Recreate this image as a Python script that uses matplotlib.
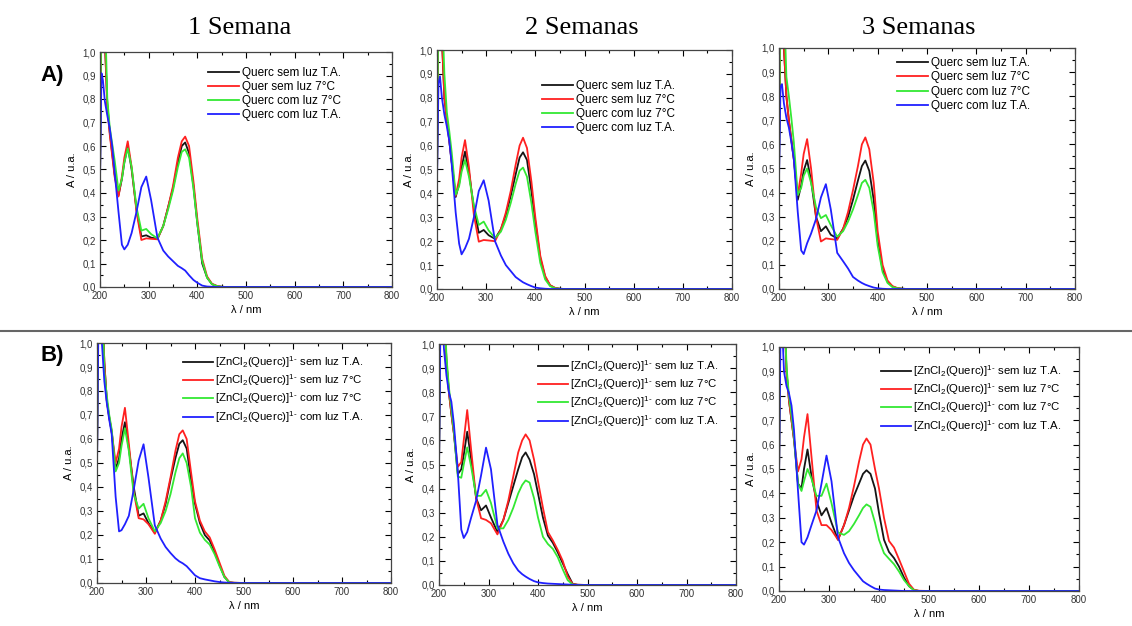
import numpy as np
import matplotlib.pyplot as plt
from matplotlib.lines import Line2D
from matplotlib.ticker import MultipleLocator, FuncFormatter

plt.rcParams['font.family'] = ['Liberation Sans', 'DejaVu Sans']
plt.rcParams['mathtext.default'] = 'regular'

# wavelength grid (nm) shared by all spectra
wl = [200, 203, 206, 210, 215, 220, 225, 230, 238, 245, 250, 257, 265, 275, 285, 295,
      305, 318, 330, 340, 350, 360, 368, 375, 383, 392, 400, 410, 420, 430, 440, 450,
      460, 470, 480, 500, 800]

# A) Querc  -- 1 semana
a1_black = [0.45, 1.3, 1.4, 1.05, 0.78, 0.66, 0.57, 0.48, 0.39, 0.46, 0.53, 0.60, 0.50, 0.33, 0.215, 0.22,
            0.21, 0.205, 0.26, 0.34, 0.42, 0.53, 0.60, 0.615, 0.57, 0.43, 0.27, 0.10, 0.04, 0.012, 0.004, 0.001,
            0, 0, 0, 0, 0]
a1_red = [0.45, 1.3, 1.4, 1.05, 0.76, 0.65, 0.56, 0.47, 0.385, 0.47, 0.55, 0.62, 0.51, 0.32, 0.20, 0.207,
          0.205, 0.203, 0.26, 0.34, 0.43, 0.55, 0.62, 0.64, 0.60, 0.45, 0.29, 0.12, 0.045, 0.014, 0.005, 0.001,
          0, 0, 0, 0, 0]
a1_green = [0.45, 1.3, 1.4, 1.2, 0.8, 0.68, 0.61, 0.54, 0.41, 0.46, 0.53, 0.59, 0.51, 0.34, 0.24, 0.247,
            0.225, 0.207, 0.26, 0.33, 0.41, 0.51, 0.575, 0.586, 0.55, 0.42, 0.27, 0.11, 0.04, 0.012, 0.004, 0.001,
            0, 0, 0, 0, 0]
a1_blue = [0.45, 0.91, 0.88, 0.79, 0.73, 0.675, 0.60, 0.49, 0.32, 0.18, 0.16, 0.18, 0.23, 0.32, 0.425, 0.47,
           0.37, 0.21, 0.155, 0.13, 0.11, 0.09, 0.08, 0.07, 0.05, 0.03, 0.018, 0.006, 0.002, 0.001, 0, 0,
           0, 0, 0, 0, 0]

# A) Querc  -- 2 semanas
a2_black = [0.45, 1.3, 1.4, 1.05, 0.80, 0.71, 0.62, 0.53, 0.385, 0.44, 0.51, 0.575, 0.49, 0.34, 0.235, 0.247,
            0.225, 0.21, 0.25, 0.31, 0.39, 0.48, 0.55, 0.572, 0.54, 0.41, 0.28, 0.13, 0.05, 0.015, 0.004, 0.001,
            0, 0, 0, 0, 0]
a2_red = [0.45, 1.3, 1.4, 1.05, 0.80, 0.71, 0.62, 0.53, 0.39, 0.46, 0.55, 0.623, 0.51, 0.31, 0.198, 0.205,
          0.203, 0.20, 0.25, 0.32, 0.41, 0.52, 0.60, 0.633, 0.59, 0.45, 0.30, 0.14, 0.055, 0.016, 0.005, 0.001,
          0, 0, 0, 0, 0]
a2_green = [0.45, 1.3, 1.4, 1.2, 0.90, 0.74, 0.66, 0.57, 0.395, 0.43, 0.49, 0.54, 0.47, 0.35, 0.268, 0.282,
            0.245, 0.213, 0.24, 0.29, 0.36, 0.44, 0.495, 0.508, 0.47, 0.36, 0.24, 0.11, 0.04, 0.012, 0.003, 0.001,
            0, 0, 0, 0, 0]
a2_blue = [0.45, 0.86, 0.89, 0.80, 0.73, 0.68, 0.62, 0.52, 0.32, 0.19, 0.145, 0.17, 0.21, 0.30, 0.41, 0.455,
           0.37, 0.20, 0.14, 0.10, 0.075, 0.05, 0.038, 0.028, 0.02, 0.012, 0.006, 0.003, 0.001, 0, 0, 0,
           0, 0, 0, 0, 0]

# A) Querc  -- 3 semanas
a3_black = [0.45, 1.3, 1.4, 1.0, 0.80, 0.70, 0.62, 0.54, 0.37, 0.43, 0.49, 0.535, 0.45, 0.30, 0.24, 0.26,
            0.225, 0.21, 0.25, 0.30, 0.37, 0.45, 0.51, 0.533, 0.49, 0.37, 0.20, 0.08, 0.03, 0.01, 0.003, 0.001,
            0, 0, 0, 0, 0]
a3_red = [0.45, 1.3, 1.4, 1.0, 0.80, 0.70, 0.62, 0.54, 0.39, 0.48, 0.56, 0.622, 0.50, 0.30, 0.197, 0.21,
          0.207, 0.204, 0.25, 0.32, 0.41, 0.51, 0.60, 0.629, 0.58, 0.44, 0.24, 0.10, 0.035, 0.012, 0.004, 0.001,
          0, 0, 0, 0, 0]
a3_green = [0.45, 1.3, 1.4, 1.2, 0.88, 0.80, 0.71, 0.61, 0.39, 0.42, 0.47, 0.50, 0.44, 0.34, 0.294, 0.307,
            0.265, 0.217, 0.24, 0.28, 0.33, 0.39, 0.44, 0.453, 0.42, 0.32, 0.18, 0.07, 0.025, 0.008, 0.003, 0.001,
            0, 0, 0, 0, 0]
a3_blue = [0.45, 0.84, 0.85, 0.77, 0.71, 0.67, 0.61, 0.54, 0.32, 0.16, 0.145, 0.19, 0.23, 0.29, 0.38, 0.435,
           0.33, 0.15, 0.115, 0.085, 0.05, 0.035, 0.025, 0.018, 0.012, 0.006, 0.003, 0.001, 0, 0, 0, 0,
           0, 0, 0, 0, 0]

# B) [ZnCl2(Querc)]1-  -- 1 semana
b1_black = [0.5, 1.3, 1.4, 1.2, 0.92, 0.76, 0.69, 0.63, 0.475, 0.52, 0.60, 0.67, 0.56, 0.40, 0.28, 0.29,
            0.25, 0.21, 0.26, 0.33, 0.43, 0.52, 0.58, 0.595, 0.56, 0.43, 0.33, 0.25, 0.20, 0.177, 0.13, 0.075,
            0.025, 0.003, 0.001, 0, 0]
b1_red = [0.5, 1.3, 1.4, 1.2, 0.92, 0.76, 0.69, 0.63, 0.50, 0.56, 0.65, 0.73, 0.58, 0.38, 0.27, 0.265,
          0.245, 0.205, 0.26, 0.34, 0.44, 0.55, 0.62, 0.636, 0.60, 0.46, 0.34, 0.26, 0.215, 0.19, 0.14, 0.085,
          0.03, 0.003, 0.001, 0, 0]
b1_green = [0.5, 1.3, 1.4, 1.25, 0.88, 0.78, 0.70, 0.64, 0.465, 0.50, 0.57, 0.645, 0.55, 0.37, 0.31, 0.33,
            0.27, 0.215, 0.25, 0.30, 0.37, 0.46, 0.52, 0.54, 0.50, 0.40, 0.27, 0.21, 0.18, 0.16, 0.12, 0.07,
            0.025, 0.002, 0, 0, 0]
b1_blue = [0.48, 1.1, 1.15, 1.0, 0.84, 0.75, 0.68, 0.62, 0.36, 0.215, 0.22, 0.245, 0.28, 0.39, 0.51, 0.578,
           0.44, 0.24, 0.185, 0.15, 0.125, 0.103, 0.09, 0.082, 0.07, 0.05, 0.032, 0.02, 0.015, 0.011, 0.007, 0.004,
           0.002, 0.001, 0, 0, 0]

# B) [ZnCl2(Querc)]1-  -- 2 semanas
b2_black = [0.48, 1.3, 1.4, 1.2, 0.93, 0.80, 0.71, 0.63, 0.46, 0.48, 0.54, 0.636, 0.52, 0.36, 0.31, 0.33,
            0.28, 0.22, 0.27, 0.34, 0.41, 0.48, 0.53, 0.55, 0.52, 0.46, 0.38, 0.28, 0.205, 0.175, 0.135, 0.09,
            0.045, 0.005, 0.001, 0, 0]
b2_red = [0.48, 1.3, 1.4, 1.2, 0.93, 0.80, 0.71, 0.63, 0.49, 0.51, 0.60, 0.726, 0.56, 0.36, 0.277, 0.27,
          0.256, 0.21, 0.27, 0.35, 0.45, 0.55, 0.60, 0.625, 0.60, 0.52, 0.43, 0.32, 0.22, 0.185, 0.145, 0.10,
          0.035, 0.004, 0.001, 0, 0]
b2_green = [0.48, 1.3, 1.4, 1.25, 0.95, 0.82, 0.73, 0.64, 0.45, 0.445, 0.50, 0.571, 0.49, 0.37, 0.37, 0.395,
            0.34, 0.235, 0.235, 0.27, 0.32, 0.38, 0.415, 0.434, 0.425, 0.36, 0.28, 0.20, 0.17, 0.15, 0.115, 0.065,
            0.02, 0.002, 0, 0, 0]
b2_blue = [0.48, 1.1, 1.15, 0.98, 0.87, 0.80, 0.76, 0.67, 0.47, 0.23, 0.195, 0.22, 0.28, 0.35, 0.455, 0.57,
           0.48, 0.25, 0.18, 0.13, 0.09, 0.06, 0.045, 0.035, 0.025, 0.016, 0.011, 0.008, 0.006, 0.005, 0.004, 0.003,
           0.002, 0.001, 0, 0, 0]

# B) [ZnCl2(Querc)]1-  -- 3 semanas
b3_black = [0.45, 1.3, 1.4, 1.2, 0.90, 0.78, 0.70, 0.62, 0.44, 0.42, 0.50, 0.58, 0.47, 0.37, 0.31, 0.34,
            0.28, 0.21, 0.27, 0.33, 0.39, 0.44, 0.48, 0.495, 0.48, 0.42, 0.32, 0.21, 0.16, 0.135, 0.10, 0.055,
            0.02, 0.004, 0, 0, 0]
b3_red = [0.45, 1.3, 1.4, 1.2, 0.90, 0.78, 0.70, 0.62, 0.49, 0.54, 0.63, 0.725, 0.55, 0.33, 0.27, 0.27,
          0.25, 0.21, 0.27, 0.34, 0.43, 0.53, 0.60, 0.625, 0.60, 0.50, 0.42, 0.30, 0.205, 0.178, 0.13, 0.08,
          0.03, 0.005, 0.001, 0, 0]
b3_green = [0.45, 1.3, 1.4, 1.25, 0.92, 0.80, 0.72, 0.63, 0.44, 0.41, 0.45, 0.50, 0.46, 0.39, 0.39, 0.44,
            0.36, 0.24, 0.23, 0.245, 0.275, 0.31, 0.34, 0.355, 0.345, 0.28, 0.21, 0.155, 0.132, 0.11, 0.08, 0.045,
            0.02, 0.003, 0, 0, 0]
b3_blue = [0.45, 1.05, 1.1, 0.90, 0.84, 0.81, 0.76, 0.66, 0.41, 0.20, 0.19, 0.22, 0.27, 0.33, 0.44, 0.555,
           0.45, 0.22, 0.155, 0.115, 0.085, 0.06, 0.04, 0.03, 0.02, 0.01, 0.006, 0.004, 0.003, 0.002, 0.001, 0,
           0, 0, 0, 0, 0]

titles = ['1 Semana', '2 Semanas', '3 Semanas']
labels_a1 = ['Querc sem luz T.A.', 'Quer sem luz 7°C', 'Querc com luz 7°C', 'Querc com luz T.A.']
labels_a = ['Querc sem luz T.A.', 'Querc sem luz 7°C', 'Querc com luz 7°C', 'Querc com luz T.A.']
zn = '[ZnCl$_2$(Querc)]$^{1\u2010}$'
labels_b = [zn + ' sem luz T.A.', zn + ' sem luz 7°C', zn + ' com luz 7°C', zn + ' com luz T.A.']
colors = ['#151515', '#ff2020', '#33e833', '#2020ff']

W, H = 1132, 626
fig = plt.figure(figsize=(W/100, H/100), dpi=100)

def rect(l, t, r, b):
    return [l/W, 1 - b/H, (r - l)/W, (b - t)/H]

# axes box, curves, labels, legend top-left (px), legend font size, row spacing
panels = [
    (rect(100, 52, 392, 287), [a1_black, a1_red, a1_green, a1_blue], labels_a1, (208, 67), 8.5, 0.18),
    (rect(437, 50, 732, 289), [a2_black, a2_red, a2_green, a2_blue], labels_a, (542, 80), 8.5, 0.18),
    (rect(779, 48, 1075, 289), [a3_black, a3_red, a3_green, a3_blue], labels_a, (897, 57), 8.5, 0.2),
    (rect(97, 343, 391, 583), [b1_black, b1_red, b1_green, b1_blue], labels_b, (183, 354), 8.2, 0.22),
    (rect(439, 344, 736, 585), [b2_black, b2_red, b2_green, b2_blue], labels_b, (538, 358), 8.2, 0.22),
    (rect(779, 347, 1079, 591), [b3_black, b3_red, b3_green, b3_blue], labels_b, (881, 363), 8.2, 0.22),
]

comma = FuncFormatter(lambda v, p: ('%.1f' % v).replace('.', ','))

for pos, curves, labels, leg, fs, lsp in panels:
    ax = fig.add_axes(pos)
    for y, c, lab in zip(curves, colors, labels):
        ax.plot(wl, y, color=c, lw=1.3, label=lab)
    ax.set_xlim(200, 800)
    ax.set_ylim(0, 1.0)
    ax.xaxis.set_major_locator(MultipleLocator(100))
    ax.xaxis.set_minor_locator(MultipleLocator(50))
    ax.yaxis.set_major_locator(MultipleLocator(0.1))
    ax.yaxis.set_minor_locator(MultipleLocator(0.05))
    ax.yaxis.set_major_formatter(comma)
    ax.tick_params(which='both', direction='in', top=True, right=True, width=0.8,
                   labelsize=7, labelcolor='#333333', pad=3)
    ax.tick_params(which='major', length=4)
    ax.tick_params(which='minor', length=2)
    for s in ax.spines.values():
        s.set_linewidth(0.9)
        s.set_color('#444444')
    ax.set_xlabel('λ / nm', fontsize=8, labelpad=3)
    ax.set_ylabel('A / u.a.', fontsize=8, labelpad=4)
    ax.legend(loc='upper left', bbox_to_anchor=(leg[0]/W, 1 - leg[1]/H), bbox_transform=fig.transFigure,
              frameon=False, fontsize=fs, handlelength=2.6, handletextpad=0.25, borderpad=0,
              borderaxespad=0, labelspacing=lsp)

for x, t in zip([240, 582, 919], titles):
    fig.text(x/W, 1 - 28/H, t, ha='center', va='center', family='Liberation Serif', fontsize=19)

fig.text(40/W, 1 - 75/H, 'A)', ha='left', va='center', fontsize=16, weight='bold')
fig.text(40/W, 1 - 355/H, 'B)', ha='left', va='center', fontsize=16, weight='bold')
fig.add_artist(Line2D([0, 1], [1 - 331/H, 1 - 331/H], color='#666666', lw=1.5))

fig.savefig('out.png', dpi=100)
